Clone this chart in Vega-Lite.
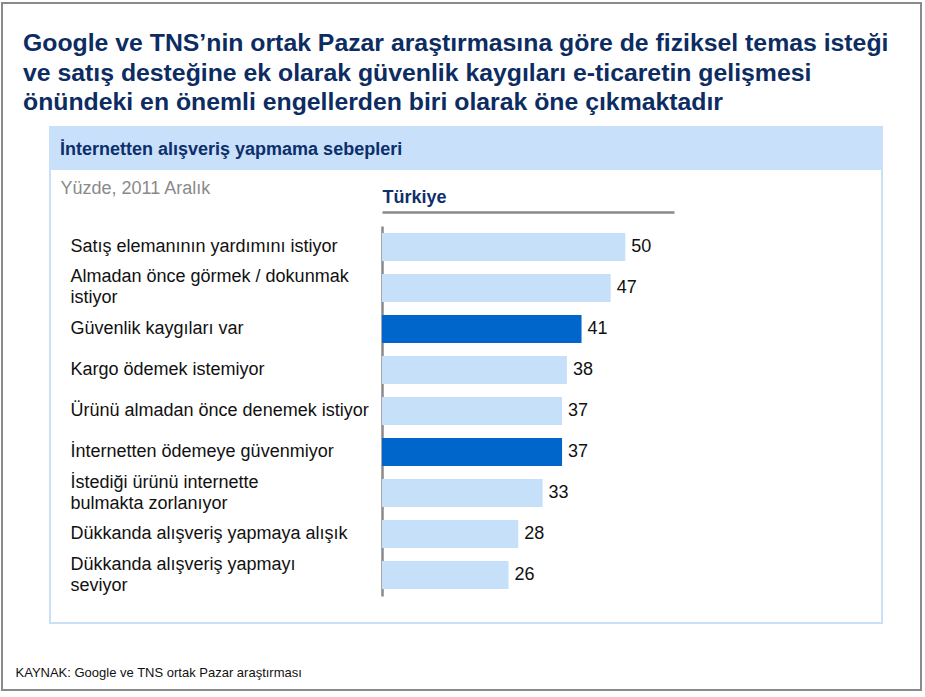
{
  "$schema": "https://vega.github.io/schema/vega-lite/v6.json",
  "autosize": {"type": "none"},
  "width": 292,
  "height": 370,
  "padding": {"left": 382, "top": 226, "right": 251, "bottom": 101},
  "background": "white",
  "config": {
    "view": {"stroke": null},
    "font": "Liberation Sans"
  },
  "title": {
    "text": [
      "Google ve TNS’nin ortak Pazar araştırmasına göre de fiziksel temas isteği",
      "ve satış desteğine ek olarak güvenlik kaygıları e-ticaretin gelişmesi",
      "önündeki en önemli engellerden biri olarak öne çıkmaktadır"
    ],
    "anchor": "start",
    "frame": "group",
    "orient": "top",
    "dx": -359,
    "offset": -113,
    "font": "Liberation Sans",
    "fontSize": 24.8,
    "fontWeight": "bold",
    "color": "#0c2c62",
    "lineHeight": 29.5
  },
  "data": {
    "values": [
      {"reason": "Satış elemanının yardımını istiyor", "pct": 50, "highlight": "no"},
      {"reason": "Almadan önce görmek / dokunmak\nistiyor", "pct": 47, "highlight": "no"},
      {"reason": "Güvenlik kaygıları var", "pct": 41, "highlight": "yes"},
      {"reason": "Kargo ödemek istemiyor", "pct": 38, "highlight": "no"},
      {"reason": "Ürünü almadan önce denemek istiyor", "pct": 37, "highlight": "no"},
      {"reason": "İnternetten ödemeye güvenmiyor", "pct": 37, "highlight": "yes"},
      {"reason": "İstediği ürünü internette\nbulmakta zorlanıyor", "pct": 33, "highlight": "no"},
      {"reason": "Dükkanda alışveriş yapmaya alışık", "pct": 28, "highlight": "no"},
      {"reason": "Dükkanda alışveriş yapmayı\nseviyor", "pct": 26, "highlight": "no"}
    ]
  },
  "layer": [
    {
      "data": {"values": [{"box": "frame"}]},
      "mark": {"type": "rect", "fill": null, "stroke": "#8a8a8a", "strokeWidth": 2,
               "x": -380, "x2": 539, "y": -223, "y2": 464},
      "encoding": {}
    },
    {
      "data": {"values": [{"box": "panel"}]},
      "mark": {"type": "rect", "fill": null, "stroke": "#c9e0f7", "strokeWidth": 2,
               "x": -332, "x2": 500, "y": -99, "y2": 397},
      "encoding": {}
    },
    {
      "data": {"values": [{"box": "header"}]},
      "mark": {"type": "rect", "fill": "#c8e0f9", "stroke": null,
               "x": -332, "x2": 500, "y": -99, "y2": -56},
      "encoding": {}
    },
    {
      "data": {"values": [{"label": "İnternetten alışveriş yapmama sebepleri"}]},
      "mark": {"type": "text", "align": "left", "baseline": "middle",
               "x": -322, "y": -76, "fontSize": 18, "fontWeight": "bold", "color": "#0d2f6b"},
      "encoding": {"text": {"field": "label"}}
    },
    {
      "mark": {"type": "bar"},
      "encoding": {
        "y": {
          "field": "reason", "type": "nominal", "sort": null,
          "scale": {"paddingInner": 0.317, "paddingOuter": 0.17},
          "axis": {
            "orient": "left",
            "title": "Yüzde, 2011 Aralık",
            "titleAngle": 0, "titleX": -322, "titleY": -38,
            "titleAlign": "left", "titleBaseline": "middle",
            "titleFontSize": 18, "titleFontWeight": "normal", "titleColor": "#8a8a8a",
            "titleFont": "Liberation Sans",
            "domainColor": "#8a8a8a", "domainWidth": 2.5,
            "ticks": false, "tickSize": 0,
            "labelAlign": "left", "labelBaseline": "middle",
            "labelPadding": 312, "labelFontSize": 18, "labelColor": "#111111",
            "labelFont": "Liberation Sans", "labelLineHeight": 21, "labelLimit": 0,
            "labelExpr": "split(datum.label, '\\n')",
            "labelOffset": {"expr": "indexof(datum.value, '\\n') >= 0 ? -10.5 : 0"}
          }
        },
        "x": {
          "field": "pct", "type": "quantitative",
          "scale": {"domain": [0, 60], "nice": false, "zero": true},
          "axis": {
            "orient": "top", "offset": 14,
            "title": "Türkiye",
            "titleX": 0, "titleY": -15, "titleAlign": "left", "titleBaseline": "middle",
            "titleFontSize": 18, "titleFontWeight": "bold", "titleColor": "#0d2f6b",
            "titleFont": "Liberation Sans",
            "labels": false, "ticks": false, "grid": false,
            "domainColor": "#8a8a8a", "domainWidth": 2.5
          }
        },
        "color": {
          "field": "highlight", "type": "nominal",
          "scale": {"domain": ["no", "yes"], "range": ["#c7e0f9", "#0066cc"]},
          "legend": null
        }
      }
    },
    {
      "mark": {"type": "text", "align": "left", "baseline": "middle", "dx": 6,
               "fontSize": 18, "color": "#111111"},
      "encoding": {
        "y": {"field": "reason", "type": "nominal", "sort": null},
        "x": {
          "field": "pct", "type": "quantitative",
          "axis": {
            "orient": "bottom",
            "title": "KAYNAK: Google ve TNS ortak Pazar araştırması",
            "titleX": -367, "titleY": 76, "titleAlign": "left", "titleBaseline": "middle",
            "titleFontSize": 13, "titleFontWeight": "normal", "titleColor": "#111111",
            "titleFont": "Liberation Sans",
            "labels": false, "ticks": false, "grid": false, "domain": false
          }
        },
        "text": {"field": "pct", "type": "quantitative"}
      }
    }
  ],
  "resolve": {"axis": {"x": "independent"}}
}
